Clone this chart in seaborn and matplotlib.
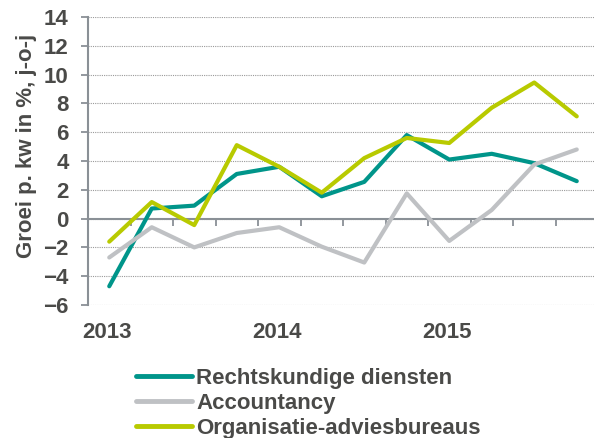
import numpy as np
import pandas as pd
import matplotlib
matplotlib.use('Agg')
import matplotlib.pyplot as plt
import seaborn as sns

# quarters 2013 Q1 .. 2015 Q4
quarters = ['2013Q1', '2013Q2', '2013Q3', '2013Q4',
            '2014Q1', '2014Q2', '2014Q3', '2014Q4',
            '2015Q1', '2015Q2', '2015Q3', '2015Q4']
year_labels = ['2013', '2014', '2015']

rechtskundig = [-4.7, 0.7, 0.9, 3.1, 3.6, 1.55, 2.55, 5.8, 4.1, 4.5, 3.85, 2.6]
accountancy = [-2.7, -0.6, -2.0, -1.0, -0.6, -1.95, -3.05, 1.75, -1.55, 0.6, 3.75, 4.8]
organisatie = [-1.6, 1.15, -0.45, 5.1, 3.6, 1.8, 4.2, 5.6, 5.25, 7.7, 9.45, 7.1]

series_names = ['Rechtskundige diensten', 'Accountancy', 'Organisatie-adviesbureaus']
colors = ['#00958a', '#bfc1c4', '#b8ca00']


def visualize():
    sns.set_style('white')
    plt.rcParams['font.family'] = ['Liberation Sans', 'DejaVu Sans']
    plt.rcParams['font.weight'] = 'bold'
    text_color = '#4a4a48'
    axis_color = '#8a9096'
    fs = 16

    df = pd.DataFrame({
        'pos': list(range(len(quarters))) * 3,
        'value': rechtskundig + accountancy + organisatie,
        'serie': np.repeat(series_names, len(quarters)),
    })

    fig = plt.figure(figsize=(5.94, 4.38), dpi=100)
    ax = fig.add_axes([88 / 594, 1 - 305 / 438, 510 / 594, 288 / 438])

    # dotted grid lines
    for y in range(-6, 15, 2):
        ax.axhline(y, color='#9a9a9a', lw=0.8, ls=(0, (1, 1)), zorder=0)

    sns.lineplot(data=df, x='pos', y='value', hue='serie', palette=colors,
                 hue_order=series_names, linewidth=3, ax=ax, legend=True,
                 solid_capstyle='round', zorder=3)

    ax.set_xlim(-0.5, 11.5)
    ax.set_ylim(-6, 14)
    ax.set_yticks(range(-6, 15, 2))
    ax.tick_params(axis='y', colors=axis_color, length=5, width=1.3, pad=9,
                   labelsize=fs, labelcolor=text_color, left=True)
    for lbl in ax.get_yticklabels():
        lbl.set_fontweight('bold')

    # x axis on the zero line with ticks at quarter boundaries
    ax.spines['bottom'].set_position(('data', 0))
    ax.spines['bottom'].set_color(axis_color)
    ax.spines['bottom'].set_linewidth(1.5)
    ax.spines['left'].set_color(axis_color)
    ax.spines['left'].set_linewidth(1.5)
    ax.spines['top'].set_visible(False)
    ax.spines['right'].set_visible(False)
    ax.set_xticks(np.arange(-0.5, 12, 1))
    ax.set_xticklabels([])
    ax.tick_params(axis='x', colors=axis_color, length=5, width=1.3,
                   direction='out', bottom=True)

    for i, yr in enumerate(year_labels):
        ax.text(i * 4 - 0.05, -0.095, yr, transform=ax.get_xaxis_transform(),
                ha='center', va='center', fontsize=fs, fontweight='bold',
                color=text_color)

    ax.set_xlabel('')
    ax.set_ylabel('Groei p. kw in %, j-o-j', fontsize=fs, fontweight='bold',
                  color=text_color)
    ax.yaxis.set_label_coords(-0.1, 0.552)

    ax.get_legend().remove()
    handles, labels = ax.get_legend_handles_labels()
    leg = fig.legend(handles, labels, loc='upper left',
                     bbox_to_anchor=(136 / 594, 1 - 368 / 438),
                     frameon=False, borderaxespad=0, borderpad=0,
                     handlelength=2.5, handletextpad=0.2, labelspacing=0.17,
                     prop={'size': fs, 'weight': 'bold'})
    for t in leg.get_texts():
        t.set_color(text_color)
    for h in leg.get_lines():
        h.set_linewidth(3.5)

    fig.savefig('out.png', dpi=100)


if __name__ == '__main__':
    visualize()
